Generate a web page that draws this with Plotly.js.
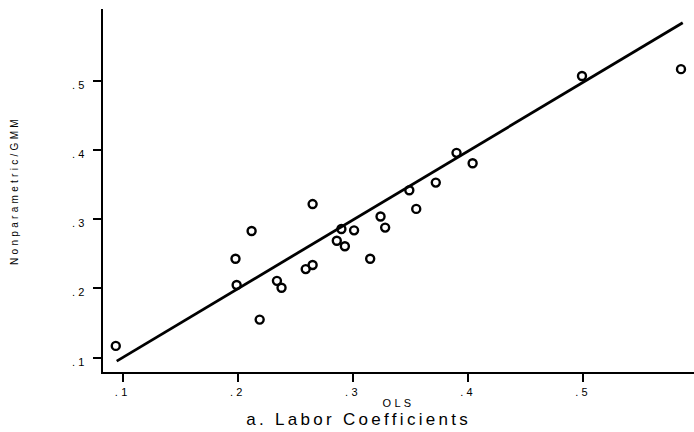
<!DOCTYPE html>
<html>
<head>
<meta charset="utf-8">
<script src="https://cdn.plot.ly/plotly-3.0.1.min.js"></script>
<style>
  html, body { margin: 0; padding: 0; background: #fff; }
  #chart { width: 694px; height: 432px; }
  .main-svg text { letter-spacing: 3.3px !important; }
</style>
</head>
<body>
<div id="chart"></div>
<script>
// OLS estimates (x) and Nonparametric/GMM estimates (y) of labor coefficients
const olsValues = [0.094, 0.198, 0.199, 0.212, 0.219, 0.234, 0.238, 0.259, 0.265, 0.265,
                   0.286, 0.290, 0.293, 0.301, 0.315, 0.324, 0.328, 0.349, 0.355, 0.372,
                   0.390, 0.404, 0.499, 0.585];
const gmmValues = [0.117, 0.243, 0.205, 0.283, 0.155, 0.211, 0.201, 0.228, 0.234, 0.322,
                   0.269, 0.286, 0.261, 0.284, 0.243, 0.304, 0.288, 0.342, 0.315, 0.353,
                   0.396, 0.381, 0.507, 0.517];
// fitted line end points
const fitX = [0.0948, 0.5865];
const fitY = [0.095, 0.584];

const tickVals = [0.1, 0.2, 0.3, 0.4, 0.5];
const tickText = ['.1', '.2', '.3', '.4', '.5'];

const FONT = 'Liberation Sans, Arial, Helvetica, sans-serif';

const traces = [
  {
    type: 'scatter', mode: 'markers', x: olsValues, y: gmmValues,
    marker: { symbol: 'circle-open', size: 8, color: '#000', line: { color: '#000', width: 2.4 } },
    hoverinfo: 'x+y', showlegend: false
  },
  {
    type: 'scatter', mode: 'lines', x: fitX, y: fitY,
    line: { color: '#000', width: 2.8 },
    hoverinfo: 'skip', showlegend: false
  }
];

const axisCommon = {
  showgrid: false, zeroline: false, showline: true, linecolor: '#000', linewidth: 2,
  ticks: 'outside', ticklen: 8, tickwidth: 2, tickcolor: '#000',
  tickvals: tickVals, ticktext: tickText,
  tickfont: { family: FONT, size: 11, color: '#000' },
  automargin: false
};

const layout = {
  width: 694, height: 432,
  margin: { l: 103, r: 0, t: 9, b: 60, pad: 0 },
  paper_bgcolor: '#fff', plot_bgcolor: '#fff',
  title: {
    text: 'a. Labor Coefficients',
    font: { family: FONT, size: 17, color: '#000' },
    x: 0.5168, xanchor: 'center', xref: 'container',
    y: 0.030, yanchor: 'middle', yref: 'container'
  },
  xaxis: Object.assign({}, axisCommon, {
    range: [0.0829, 0.5963],
    ticklabelstandoff: 1,
    ticklabelshift: 1.7,
    title: { text: 'OLS', font: { family: FONT, size: 11, color: '#000' }, standoff: 2 }
  }),
  yaxis: Object.assign({}, axisCommon, {
    range: [0.0793, 0.6039],
    ticklabelstandoff: 3,
    ticklabelshift: 4,
    title: { text: 'Nonparametric/GMM', font: { family: FONT, size: 10, color: '#000' }, standoff: 58 }
  }),
  showlegend: false
};

Plotly.newPlot('chart', traces, layout, { displayModeBar: false, staticPlot: true });
</script>
</body>
</html>
